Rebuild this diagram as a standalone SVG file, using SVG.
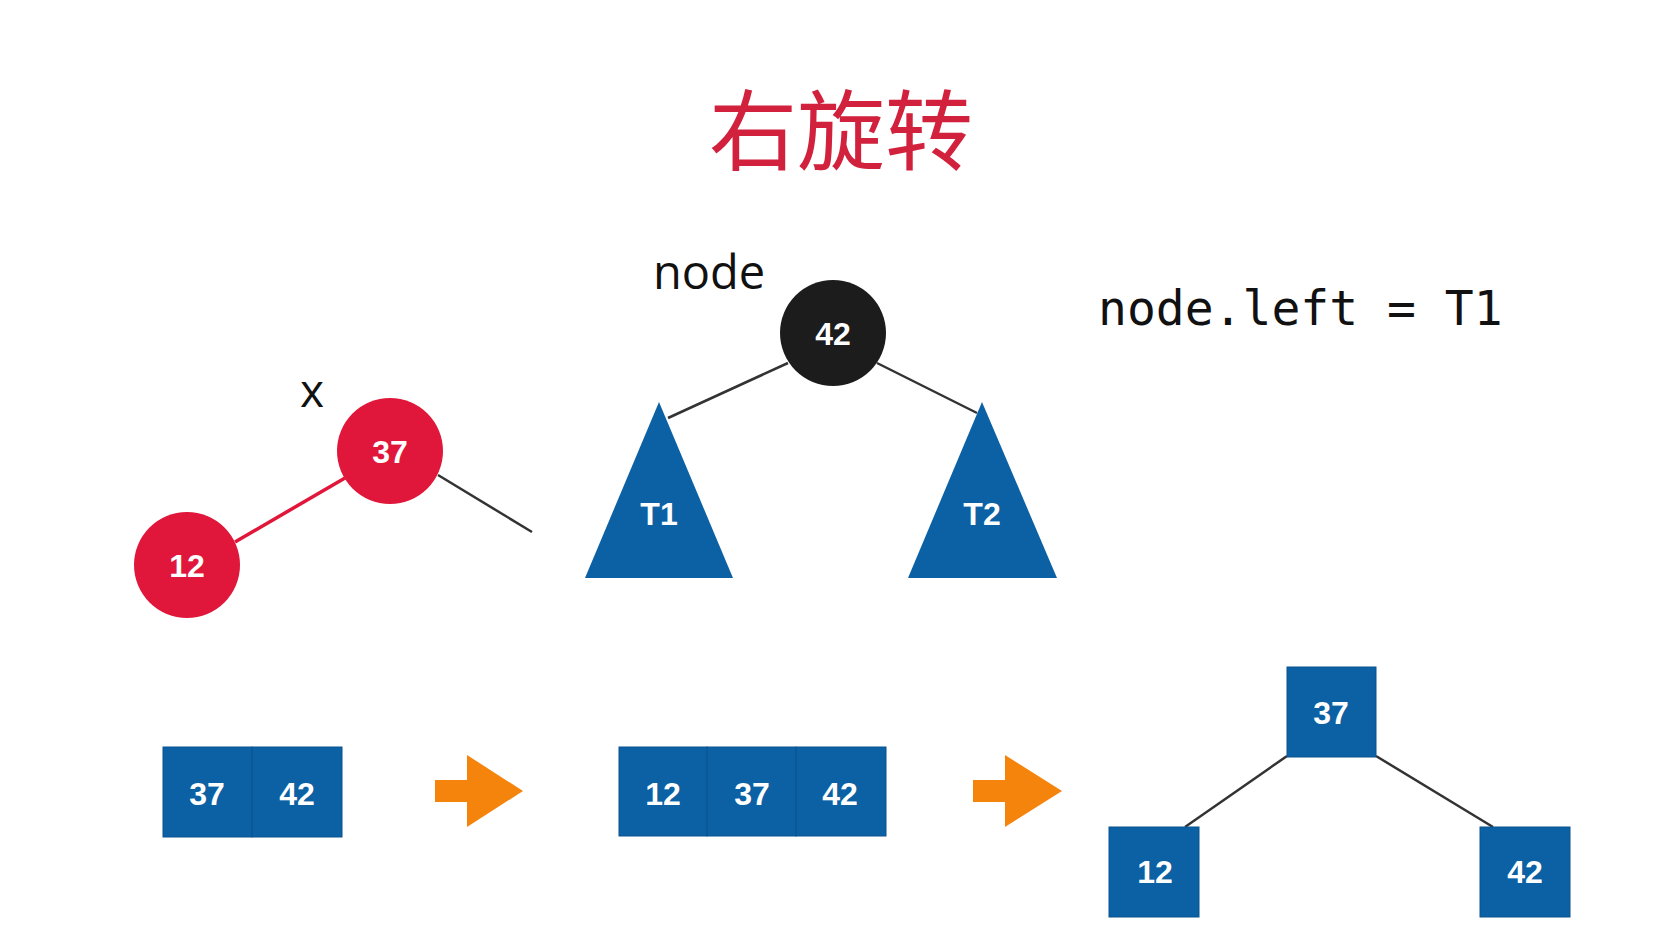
<svg xmlns="http://www.w3.org/2000/svg" width="1669" height="936" viewBox="0 0 1669 936">
<style>
.num{font-family:"Liberation Sans",Arial,sans-serif;font-weight:bold;font-size:32px;fill:#ffffff;text-anchor:middle}
.lbl{font-family:"Open Sans","Noto Sans",sans-serif;fill:#111111}
.edge{stroke:#333333;stroke-width:2.5;fill:none}
.red{fill:#e0173a}
.blue{fill:#0b61a4}
.cell{fill:#0b61a4;stroke:#0a5591;stroke-width:1}
.arrow{fill:#f5840c}
</style>
<rect width="1669" height="936" fill="#ffffff"/>
<text id="title" x="841" y="163" font-family="'Noto Sans CJK SC','Noto Sans',sans-serif" font-size="88" fill="#d2213d" text-anchor="middle">右旋转</text>

<g id="connectors">
<line class="edge" x1="438" y1="475" x2="532" y2="532"/>
<line x1="235" y1="542" x2="345" y2="478" stroke="#e0173a" stroke-width="3.5"/>
<line class="edge" x1="788" y1="363" x2="668" y2="418"/>
<line class="edge" x1="877" y1="363" x2="977" y2="413"/>
<line class="edge" x1="1287" y1="756" x2="1185" y2="827"/>
<line class="edge" x1="1376" y1="756" x2="1493" y2="827"/>
</g>

<g id="label-x"><text class="lbl" x="312" y="407" font-size="46" font-weight="500" text-anchor="middle">x</text></g>
<g id="node-37"><circle class="red" cx="390" cy="451" r="53"/><text class="num" x="390" y="463">37</text></g>
<g id="node-12"><circle class="red" cx="187" cy="565" r="53"/><text class="num" x="187" y="577">12</text></g>

<g id="label-node"><text class="lbl" x="653" y="289" font-size="47">node</text></g>
<g id="node-42"><circle cx="833" cy="333" r="53" fill="#1c1c1c"/><text class="num" x="833" y="345">42</text></g>
<g id="tree-T1"><polygon class="blue" points="659,402 733,578 585,578"/><text class="num" x="659" y="525" font-size="34">T1</text></g>
<g id="tree-T2"><polygon class="blue" points="982,402 1057,578 908,578"/><text class="num" x="982" y="525" font-size="34">T2</text></g>

<g id="code"><text x="1098" y="325" font-family="'DejaVu Sans Mono','Liberation Mono',monospace" font-size="48" fill="#111111">node.left = T1</text></g>

<g id="array-1">
<rect class="cell" x="163" y="747" width="89" height="90"/><text class="num" x="207" y="805">37</text>
<rect class="cell" x="252" y="747" width="90" height="90"/><text class="num" x="297" y="805">42</text>
</g>
<g id="arrow-1"><polygon class="arrow" points="435,780 467,780 467,755 523,791 467,827 467,802 435,802"/></g>

<g id="array-2">
<rect class="cell" x="619" y="747" width="88" height="89"/><text class="num" x="663" y="805">12</text>
<rect class="cell" x="707" y="747" width="89" height="89"/><text class="num" x="752" y="805">37</text>
<rect class="cell" x="796" y="747" width="90" height="89"/><text class="num" x="840" y="805">42</text>
</g>
<g id="arrow-2"><polygon class="arrow" points="973,780 1005,780 1005,755 1062,791 1005,827 1005,802 973,802"/></g>

<g id="box-37"><rect class="cell" x="1287" y="667" width="89" height="90"/><text class="num" x="1331" y="724">37</text></g>
<g id="box-12"><rect class="cell" x="1109" y="827" width="90" height="90"/><text class="num" x="1155" y="883">12</text></g>
<g id="box-42"><rect class="cell" x="1480" y="827" width="90" height="90"/><text class="num" x="1525" y="883">42</text></g>
</svg>
